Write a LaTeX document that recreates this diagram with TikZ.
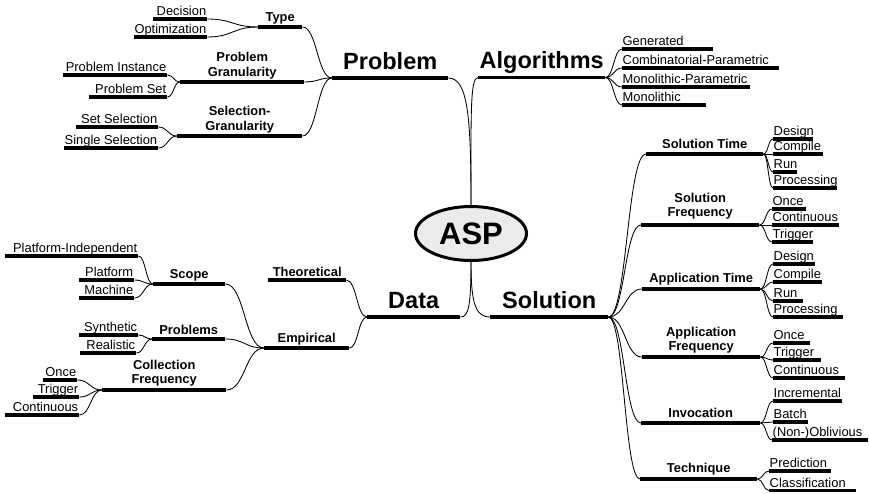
\documentclass[tikz,border=0pt]{standalone}
\usepackage{fontspec}
\setmainfont{Liberation Sans}
\usetikzlibrary{calc,shapes.geometric}
\begin{document}
\begin{tikzpicture}[x=1pt,y=-1pt,
  bar/.style={rectangle, fill=black, inner sep=0pt, minimum height=3.2pt, anchor=west},
  bigbar/.style={bar, minimum height=3.6pt},
  link/.style={line width=0.85pt, to path={let \p1=(\tikztostart), \p2=(\tikztotarget) in
     .. controls ({(\x1+\x2)/2},\y1) and ({(\x1+\x2)/2},\y2) .. (\tikztotarget)}},
  rootlink/.style={line width=0.85pt},
  leafR/.style={anchor=base west, inner sep=0pt, xshift=0.5pt, yshift=1.6pt,
     font=\fontsize{12.9pt}{15pt}\selectfont},
  leafL/.style={anchor=base east, inner sep=0pt, xshift=-1pt, yshift=1.6pt,
     font=\fontsize{12.9pt}{15pt}\selectfont},
  cat/.style={anchor=base, inner sep=0pt, yshift=4pt,
     font=\bfseries\fontsize{12.9pt}{15pt}\selectfont},
  cattwo/.style={anchor=south, align=center, inner sep=0pt, yshift=1pt,
     font=\bfseries\fontsize{12.9pt}{14.5pt}\selectfont},
  big/.style={anchor=base, inner sep=0pt, yshift=6.7pt,
     font=\bfseries\fontsize{23.5pt}{28pt}\selectfont},
  root/.style={ellipse, draw, line width=3pt, fill=black!8, minimum width=111pt,
     minimum height=54pt, inner sep=0pt, font=\bfseries\fontsize{31pt}{36pt}\selectfont},
]
\useasboundingbox (0,0) rectangle (869,493);

% centre
\node[root] (asp) at (471,233.5) {ASP};

% main branches
\node[bigbar, minimum width=116pt, label={[big]north:Problem}] (prob) at (332,78) {};
\node[bigbar, minimum width=127pt, label={[big]north:Algorithms}] (alg) at (478,77.5) {};
\node[bigbar, minimum width=93pt, label={[big]north:Data}] (data) at (367,317) {};
\node[bigbar, minimum width=118pt, label={[big]north:Solution}] (sol) at (490,317) {};

% Problem
\node[bar, minimum width=44pt, label={[cat]north:Type}] (type) at (258,27) {};
\node[bar, minimum width=124pt, label={[cattwo]north:{Problem\\Granularity}}] (pgran) at (180,82) {};
\node[bar, minimum width=125pt, label={[cattwo]north:{Selection-\\Granularity}}] (sgran) at (177,136) {};
\node[bar, minimum width=54pt, label={[leafL]north east:Decision}] (dec) at (153,19) {};
\node[bar, minimum width=73pt, label={[leafL]north east:Optimization}] (opt) at (134,37) {};
\node[bar, minimum width=104pt, label={[leafL]north east:Problem Instance}] (pinst) at (63,75) {};
\node[bar, minimum width=78pt, label={[leafL]north east:Problem Set}] (pset) at (89,97) {};
\node[bar, minimum width=82pt, label={[leafL]north east:Set Selection}] (ssel) at (76,127) {};
\node[bar, minimum width=94pt, label={[leafL]north east:Single Selection}] (sisel) at (64,148) {};

% Algorithms
\node[bar, minimum width=91pt, label={[leafR]north west:Generated}] (gen) at (622,49) {};
\node[bar, minimum width=157pt, label={[leafR]north west:Combinatorial-Parametric}] (comb) at (622,68) {};
\node[bar, minimum width=128pt, label={[leafR]north west:Monolithic-Parametric}] (monop) at (622,87) {};
\node[bar, minimum width=84pt, label={[leafR]north west:Monolithic}] (mono) at (622,105) {};

% Solution
\node[bar, minimum width=117pt, label={[cat]north:Solution Time}] (stime) at (646,154) {};
\node[bar, minimum width=118pt, label={[cattwo, yshift=2.5pt]north:{Solution\\Frequency}}] (sfreq) at (641,225) {};
\node[bar, minimum width=118pt, label={[cat, yshift=1.2pt]north:Application Time}] (atime) at (642,289) {};
\node[bar, minimum width=118pt, label={[cattwo, yshift=0.7pt]north:{Application\\Frequency}}] (afreq) at (642,357) {};
\node[bar, minimum width=119pt, label={[cat]north:Invocation}] (invoc) at (641,423) {};
\node[bar, minimum width=117pt, label={[cat, yshift=1.2pt]north:Technique}] (tech) at (640,479) {};

\node[bar, minimum width=40pt, label={[leafR]north west:Design}] (std) at (773,139) {};
\node[bar, minimum width=50pt, label={[leafR]north west:Compile}] (stc) at (773,154) {};
\node[bar, minimum width=24pt, label={[leafR]north west:Run}] (str) at (773,172) {};
\node[bar, minimum width=64pt, label={[leafR]north west:Processing}] (stp) at (773,188) {};

\node[bar, minimum width=34pt, label={[leafR]north west:Once}] (sfo) at (772,209) {};
\node[bar, minimum width=67pt, label={[leafR]north west:Continuous}] (sfc) at (772,225) {};
\node[bar, minimum width=41pt, label={[leafR]north west:Trigger}] (sft) at (772,242) {};

\node[bar, minimum width=42pt, label={[leafR]north west:Design}] (atd) at (773,264) {};
\node[bar, minimum width=49pt, label={[leafR]north west:Compile}] (atc) at (773,282) {};
\node[bar, minimum width=30pt, label={[leafR]north west:Run}] (atr) at (773,301) {};
\node[bar, minimum width=70pt, label={[leafR]north west:Processing}] (atp) at (773,317) {};

\node[bar, minimum width=37pt, label={[leafR]north west:Once}] (afo) at (773,343) {};
\node[bar, minimum width=48pt, label={[leafR]north west:Trigger}] (aft) at (773,360) {};
\node[bar, minimum width=72pt, label={[leafR]north west:Continuous}] (afc) at (773,378) {};

\node[bar, minimum width=69pt, label={[leafR]north west:Incremental}] (ivi) at (773,401) {};
\node[bar, minimum width=35pt, label={[leafR]north west:Batch}] (ivb) at (773,422) {};
\node[bar, minimum width=96pt, label={[leafR]north west:(Non-)Oblivious}] (ivn) at (772,440) {};

\node[bar, minimum width=62pt, label={[leafR]north west:Prediction}] (tep) at (769,471) {};
\node[bar, minimum width=87pt, label={[leafR]north west:Classification}] (tec) at (769,490.5) {};

% Data
\node[bar, minimum width=78pt, label={[cat, yshift=-2pt]north:Theoretical}] (theo) at (268,280) {};
\node[bar, minimum width=85pt, label={[cat]north:Empirical}] (emp) at (264,348) {};
\node[bar, minimum width=72pt, label={[cat]north:Scope}] (scope) at (153,284) {};
\node[bar, minimum width=73pt, label={[cat, yshift=-1pt]north:Problems}] (probs) at (152,339) {};
\node[bar, minimum width=124pt, label={[cattwo, yshift=0.7pt]north:{Collection\\Frequency}}] (cfreq) at (102,390) {};

\node[bar, minimum width=133pt, label={[leafL]north east:Platform-Independent}] (pind) at (5,256) {};
\node[bar, minimum width=55pt, label={[leafL]north east:Platform}] (plat) at (79,280) {};
\node[bar, minimum width=55pt, label={[leafL]north east:Machine}] (mach) at (79,298) {};
\node[bar, minimum width=59pt, label={[leafL]north east:Synthetic}] (synth) at (79,335) {};
\node[bar, minimum width=56pt, label={[leafL]north east:Realistic}] (real) at (80,353) {};
\node[bar, minimum width=34pt, label={[leafL]north east:Once}] (conce) at (43,380) {};
\node[bar, minimum width=46pt, label={[leafL]north east:Trigger}] (ctrig) at (33,397) {};
\node[bar, minimum width=74pt, label={[leafL]north east:Continuous}] (ccont) at (5,415) {};

% links from the centre
\draw[rootlink] (asp.north) .. controls +(0,-85) and +(20,0) .. (prob.east);
\draw[rootlink] (asp.north) .. controls +(0,-90) and +(-8,0) .. (alg.west);
\draw[rootlink] (asp.south) .. controls +(0,45) and +(8,0) .. (data.east);
\draw[rootlink] (asp.south) .. controls +(0,40) and +(-15,0) .. (sol.west);

% Problem links
\draw[link] (prob.west) to (type.east);
\draw[link] (prob.west) to (pgran.east);
\draw[link] (prob.west) to (sgran.east);
\draw[link] (type.west) to (dec.east);
\draw[link] (type.west) to (opt.east);
\draw[link] (pgran.west) to (pinst.east);
\draw[link] (pgran.west) to (pset.east);
\draw[link] (sgran.west) to (ssel.east);
\draw[link] (sgran.west) to (sisel.east);

% Algorithms links
\foreach \k in {gen,comb,monop,mono} \draw[link] (alg.east) to (\k.west);

% Solution links
\foreach \k in {stime,sfreq,atime,afreq,invoc,tech} \draw[link] (sol.east) to (\k.west);
\foreach \k in {std,stc,str,stp} \draw[link] (stime.east) to (\k.west);
\foreach \k in {sfo,sfc,sft} \draw[link] (sfreq.east) to (\k.west);
\foreach \k in {atd,atc,atr,atp} \draw[link] (atime.east) to (\k.west);
\foreach \k in {afo,aft,afc} \draw[link] (afreq.east) to (\k.west);
\foreach \k in {ivi,ivb,ivn} \draw[link] (invoc.east) to (\k.west);
\foreach \k in {tep,tec} \draw[link] (tech.east) to (\k.west);

% Data links
\draw[link] (data.west) to (theo.east);
\draw[link] (data.west) to (emp.east);
\foreach \k in {scope,probs,cfreq} \draw[link] (emp.west) to (\k.east);
\foreach \k in {pind,plat,mach} \draw[link] (scope.west) to (\k.east);
\foreach \k in {synth,real} \draw[link] (probs.west) to (\k.east);
\foreach \k in {conce,ctrig,ccont} \draw[link] (cfreq.west) to (\k.east);
\end{tikzpicture}
\end{document}
